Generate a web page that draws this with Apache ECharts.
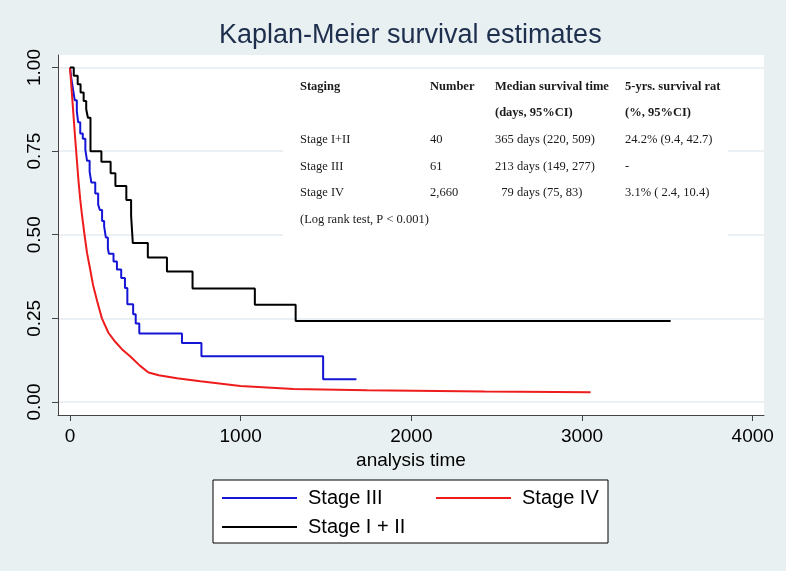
<!DOCTYPE html>
<html>
<head>
<meta charset="utf-8">
<script src="https://cdn.jsdelivr.net/npm/echarts@6/dist/echarts.min.js"></script>
<style>
  html, body { margin: 0; padding: 0; background: #e9f0f2; }
  #chart { width: 786px; height: 571px; }
</style>
</head>
<body>
<div id="chart"></div>
<script>
// ---- data ----
const seriesNames = ['Stage III', 'Stage IV', 'Stage I + II'];

const stage12Time = [0, 22, 45, 62, 80, 95, 105, 120, 184, 238, 266, 330, 358, 368, 456, 568, 718, 1083, 1322, 3519];
const stage12Surv = [1.0, 0.975, 0.95, 0.925, 0.9, 0.875, 0.85, 0.75, 0.718, 0.684, 0.646, 0.604, 0.557, 0.475, 0.432, 0.39, 0.339, 0.291, 0.242, 0.242];

const stage3Time = [0, 8, 18, 28, 40, 48, 60, 75, 90, 100, 115, 125, 148, 165, 175, 188, 200, 210, 222, 228, 255, 275, 300, 322, 336, 370, 385, 406, 656, 770, 1483, 1678];
const stage3Surv = [1.0, 0.967, 0.934, 0.902, 0.869, 0.836, 0.803, 0.787, 0.754, 0.721, 0.689, 0.656, 0.623, 0.59, 0.574, 0.541, 0.525, 0.492, 0.459, 0.443, 0.42, 0.396, 0.371, 0.341, 0.292, 0.262, 0.235, 0.205, 0.176, 0.137, 0.068, 0.068];

const stage4Time = [0, 10, 20, 30, 40, 50, 60, 70, 85, 100, 115, 135, 160, 187, 225, 265, 304, 352, 411, 460, 520, 627, 764, 998, 1310, 1740, 1745, 2430, 2435, 3050];
const stage4Surv = [1.0, 0.93, 0.86, 0.79, 0.725, 0.66, 0.605, 0.56, 0.5, 0.445, 0.405, 0.35, 0.3, 0.25, 0.207, 0.18, 0.158, 0.137, 0.108, 0.088, 0.08, 0.071, 0.062, 0.048, 0.039, 0.035, 0.031, 0.031, 0.029, 0.029];

const xTicks = [0, 1000, 2000, 3000, 4000];
const yTicks = [0, 0.25, 0.5, 0.75, 1];

const tableHeader1 = ['Staging', 'Number', 'Median survival time', '5-yrs. survival rat'];
const tableHeader2 = ['', '', '(days, 95%CI)', '(%, 95%CI)'];
const tableRows = [
  ['Stage I+II', '40', '365 days (220, 509)', '24.2% (9.4, 42.7)'],
  ['Stage III', '61', '213 days (149, 277)', '-'],
  ['Stage IV', '2,660', '  79 days (75, 83)', '3.1% ( 2.4, 10.4)']
];
const tableNote = '(Log rank test, P < 0.001)';

// ---- build ----
function pairs(t, s) { return t.map((v, i) => [v, s[i]]); }

const chart = echarts.init(document.getElementById('chart'), null, { renderer: 'canvas' });

const colX = [300, 430, 495, 625];
const rowY = [87, 113, 140, 167, 193];
const tableFont = '12.5px "Liberation Serif", "Times New Roman", serif';
const tableBold = 'bold 12.5px "Liberation Serif", "Times New Roman", serif';

const tableEls = [{
  type: 'rect', shape: { x: 283, y: 69, width: 445, height: 171 },
  style: { fill: '#ffffff' }, z: 50
}];
tableHeader1.forEach((t, i) => tableEls.push({ type: 'text', x: colX[i], y: rowY[0], z: 51,
  style: { text: t, font: tableBold, fill: '#1a1a1a', verticalAlign: 'middle' } }));
tableHeader2.forEach((t, i) => { if (t) tableEls.push({ type: 'text', x: colX[i], y: rowY[1], z: 51,
  style: { text: t, font: tableBold, fill: '#1a1a1a', verticalAlign: 'middle' } }); });
tableRows.forEach((r, ri) => r.forEach((t, i) => tableEls.push({ type: 'text', x: colX[i], y: rowY[2 + ri], z: 51,
  style: { text: t, font: tableFont, fill: '#1a1a1a', verticalAlign: 'middle' } })));
tableEls.push({ type: 'text', x: colX[0], y: 220, z: 51,
  style: { text: tableNote, font: tableFont, fill: '#1a1a1a', verticalAlign: 'middle' } });

const option = {
  backgroundColor: '#e9f0f2',
  animation: false,
  title: {
    text: 'Kaplan-Meier survival estimates',
    left: 219, top: 22, padding: 0,
    textStyle: { fontFamily: 'Liberation Sans, Arial, sans-serif', fontSize: 27, fontWeight: 'normal', color: '#1e2f4e' }
  },
  grid: {
    left: 58, right: 22, top: 55, bottom: 156,
    show: true, backgroundColor: '#ffffff', borderWidth: 0
  },
  legend: {
    data: seriesNames,
    left: 222, top: 488, width: 440, padding: 0,
    orient: 'horizontal',
    icon: 'rect', itemWidth: 75, itemHeight: 2, itemGap: 9,
    textStyle: { fontFamily: 'Liberation Sans, Arial, sans-serif', fontSize: 20, color: '#000', lineHeight: 20,
      width: 119, padding: [0, 0, 0, 6] }
  },
  xAxis: {
    type: 'value', min: -70.3, max: 4066,
    name: 'analysis time', nameLocation: 'middle', nameGap: 33,
    nameTextStyle: { fontFamily: 'Liberation Sans, Arial, sans-serif', fontSize: 19, color: '#000' },
    axisLine: { show: true, onZero: false, lineStyle: { color: '#444', width: 1 } },
    axisTick: { show: true, length: 6, customValues: xTicks, lineStyle: { color: '#444' } },
    axisLabel: { customValues: xTicks, margin: 12, fontFamily: 'Liberation Sans, Arial, sans-serif', fontSize: 19, color: '#000',
      formatter: v => String(Math.round(v)) },
    splitLine: { show: false }
  },
  yAxis: {
    type: 'value', min: -0.0389, max: 1.0374,
    axisLine: { show: true, onZero: false, lineStyle: { color: '#444', width: 1 } },
    axisTick: { show: true, length: 6, customValues: yTicks, lineStyle: { color: '#444' } },
    axisLabel: { customValues: yTicks, rotate: 90, margin: 14, fontFamily: 'Liberation Sans, Arial, sans-serif', fontSize: 19, color: '#000',
      formatter: v => v.toFixed(2) },
    splitLine: { show: true, lineStyle: { color: '#e3ebef', width: 1.5 } }
  },
  series: [
    { name: seriesNames[0], type: 'line', step: 'end', showSymbol: false, data: pairs(stage3Time, stage3Surv),
      lineStyle: { color: '#1515d6', width: 2 }, itemStyle: { color: '#1515d6' }, z: 3 },
    { name: seriesNames[1], type: 'line', showSymbol: false, data: pairs(stage4Time, stage4Surv),
      lineStyle: { color: '#ee1c1c', width: 2 }, itemStyle: { color: '#ee1c1c' }, z: 4 },
    { name: seriesNames[2], type: 'line', step: 'end', showSymbol: false, data: pairs(stage12Time, stage12Surv),
      lineStyle: { color: '#000000', width: 2 }, itemStyle: { color: '#000000' }, z: 5 }
  ],
  graphic: [
    { type: 'rect', shape: { x: 213, y: 480, width: 395, height: 63 }, z: 1,
      style: { fill: '#ffffff', stroke: '#000', lineWidth: 1 } },
    { type: 'group', children: tableEls, z: 50 }
  ]
};
chart.setOption(option);
</script>
</body>
</html>
